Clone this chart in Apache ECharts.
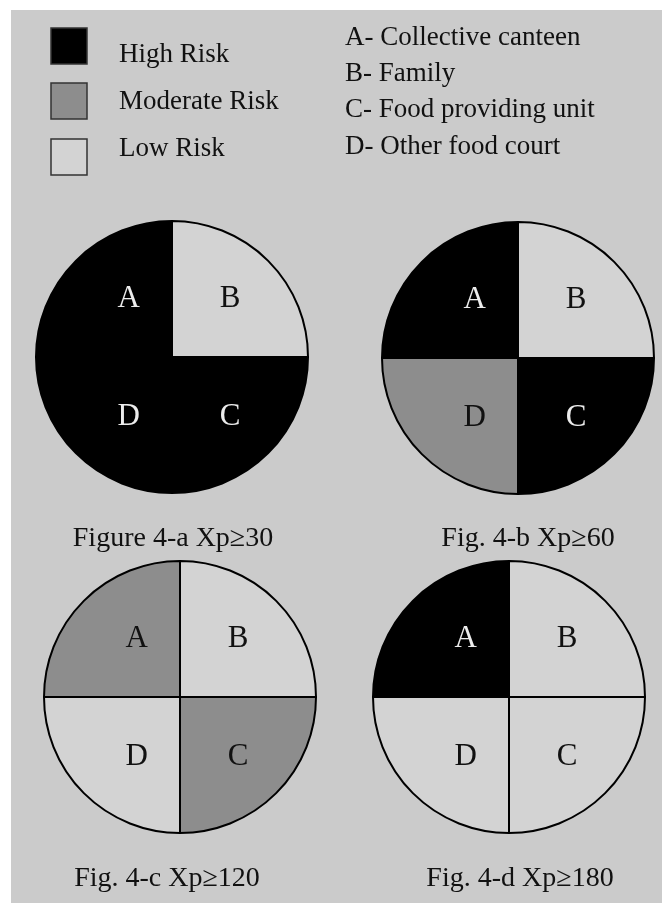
<!DOCTYPE html>
<html>
<head>
<meta charset="utf-8">
<script src="https://cdn.jsdelivr.net/npm/echarts@6/dist/echarts.min.js"></script>
<style>
  html, body { margin: 0; padding: 0; background: #fff; }
  #chart { width: 662px; height: 903px; }
</style>
</head>
<body>
<div id="chart"></div>
<script>
// data
const sectors = ['A', 'B', 'C', 'D']
const sectorNames = ['Collective canteen', 'Family', 'Food providing unit', 'Other food court']
const sectorShare = [1, 1, 1, 1]
const riskLevels = ['High Risk', 'Moderate Risk', 'Low Risk']
const figTitles = ['Figure 4-a Xp≥30', 'Fig. 4-b Xp≥60', 'Fig. 4-c Xp≥120', 'Fig. 4-d Xp≥180']
const risk4a = ['High Risk', 'Low Risk', 'High Risk', 'High Risk']
const risk4b = ['High Risk', 'Low Risk', 'High Risk', 'Moderate Risk']
const risk4c = ['Moderate Risk', 'Low Risk', 'Moderate Risk', 'Low Risk']
const risk4d = ['High Risk', 'Low Risk', 'Low Risk', 'Low Risk']
const figRisks = [risk4a, risk4b, risk4c, risk4d]

// styling
const FONT = '"Liberation Serif", "Times New Roman", serif'
const riskColor = { 'High Risk': '#000000', 'Moderate Risk': '#8d8d8d', 'Low Risk': '#d3d3d3' }
const pieCenters = [[172, 357], [518, 358], [180, 697], [509, 697]]
const titlePos = [[173, 539], [528, 539], [167, 879], [520, 879]]
// nudge the letters from the default "inside" spot
const labelShift = { A: [7, -8], B: [8, -8], C: [8, 10], D: [7, 10] }

const chart = echarts.init(document.getElementById('chart'))

const series = figRisks.map((risks, i) => ({
  type: 'pie',
  center: pieCenters[i],
  radius: 136,
  startAngle: 180,
  clockwise: true,
  silent: true,
  animation: false,
  emphasis: { disabled: true },
  itemStyle: { borderColor: '#000', borderWidth: 2 },
  label: {
    show: true,
    position: 'inside',
    formatter: '{b}',
    fontFamily: FONT,
    fontSize: 31,
    textBorderWidth: 0
  },
  labelLine: { show: false },
  labelLayout: (params) => {
    const s = labelShift[sectors[params.dataIndex]]
    return { dx: s[0], dy: s[1] }
  },
  data: sectors.map((name, k) => ({
    name,
    value: sectorShare[k],
    itemStyle: { color: riskColor[risks[k]] },
    label: { color: risks[k] === 'High Risk' ? '#ececec' : '#111' }
  }))
}))

const graphics = [
  { type: 'rect', z: -10, shape: { x: 11, y: 10, width: 651, height: 893 }, style: { fill: '#cbcbcb' } }
]

// risk legend
const legendY = [28, 83, 139]
const legendTextY = [55, 102, 149]
riskLevels.forEach((lvl, i) => {
  graphics.push({
    type: 'rect',
    shape: { x: 51, y: legendY[i], width: 36, height: 36 },
    style: { fill: riskColor[lvl], stroke: '#333', lineWidth: 1.5 }
  })
  graphics.push({
    type: 'text',
    style: {
      text: lvl, x: 119, y: legendTextY[i], font: '27px ' + FONT,
      fill: '#111', textAlign: 'left', textVerticalAlign: 'middle'
    }
  })
})

// sector key
const keyY = [38, 74, 110, 147]
sectors.forEach((s, i) => {
  graphics.push({
    type: 'text',
    style: {
      text: s + '- ' + sectorNames[i], x: 345, y: keyY[i], font: '27px ' + FONT,
      fill: '#111', textAlign: 'left', textVerticalAlign: 'middle'
    }
  })
})

// figure captions
figTitles.forEach((t, i) => {
  graphics.push({
    type: 'text',
    style: {
      text: t, x: titlePos[i][0], y: titlePos[i][1], font: '28px ' + FONT,
      fill: '#111', textAlign: 'center', textVerticalAlign: 'middle'
    }
  })
})

chart.setOption({
  backgroundColor: '#ffffff',
  animation: false,
  graphic: graphics,
  series
})
</script>
</body>
</html>
